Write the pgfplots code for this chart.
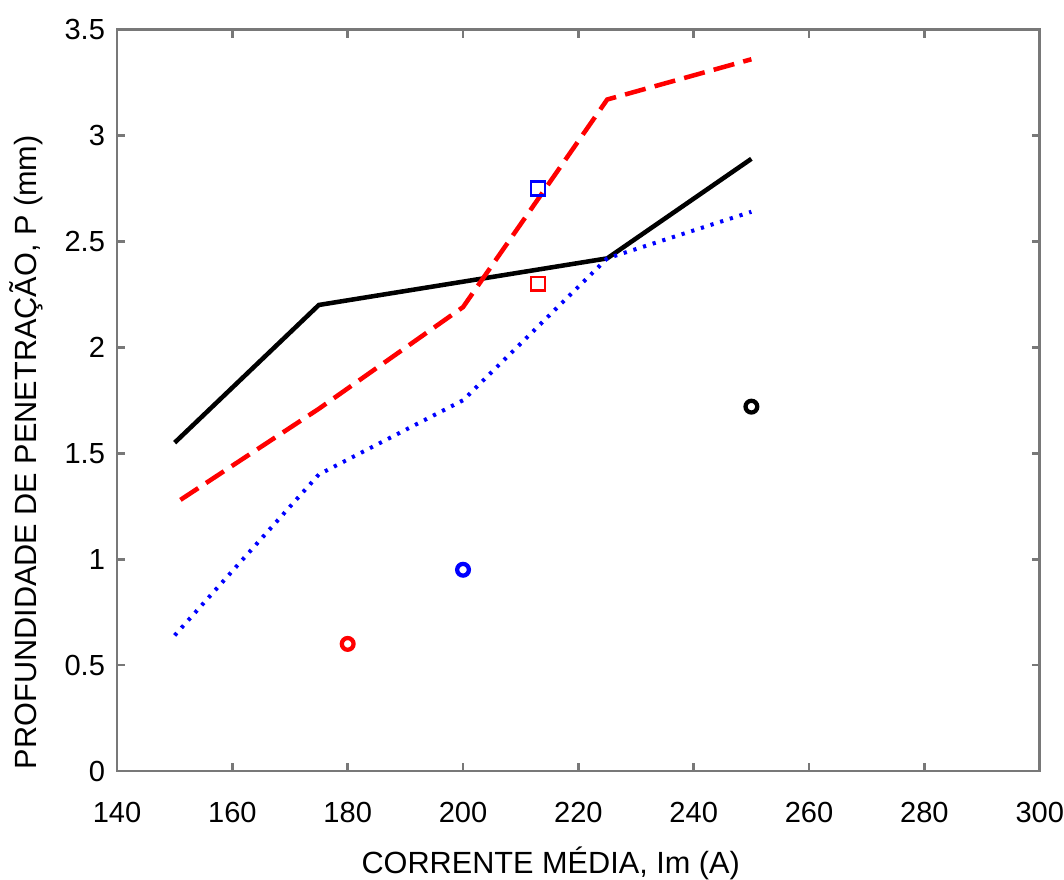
\documentclass[border=0pt]{standalone}
\usepackage{pgfplots}
\pgfplotsset{compat=1.18}
\usepackage{fontspec}
\setmainfont{Liberation Sans}
\definecolor{axgray}{RGB}{120,120,120}
\definecolor{mred}{RGB}{255,0,0}
\definecolor{mblue}{RGB}{0,0,255}
\begin{document}
\begin{tikzpicture}
\begin{axis}[
  scale only axis,
  width=346pt, height=278pt,
  xmin=140, xmax=300, ymin=0, ymax=3.5,
  xtick={140,160,...,300},
  ytick={0,0.5,...,3.5},
  axis line style={axgray, line width=1.1pt},
  tick style={axgray, line width=1pt},
  tick align=inside,
  major tick length=3pt,
  /pgf/number format/assume math mode=true,
  /pgf/number format/fixed,
  /pgf/number format/1000 sep={},
  /pgf/number format/precision=1,
  tick label style={font=\fontsize{10.9}{12}\selectfont, black},
  xticklabel style={yshift=-8pt},
  yticklabel style={xshift=-1pt},
  label style={font=\fontsize{11.5}{13}\selectfont, black},
  xlabel={CORRENTE MÉDIA, Im (A)},
  ylabel={PROFUNDIDADE DE PENETRAÇÃO, P (mm)},
  xlabel style={at={(axis description cs:0.47,-0.125)}, anchor=center},
  ylabel style={at={(axis description cs:-0.0985,0.43)}, anchor=center},
  clip=false,
]
% black solid
\addplot[black, line width=1.7pt, mark=none] coordinates {
 (150,1.55) (175,2.20) (225,2.42) (250,2.89)};
% red dashed
\addplot[mred, line width=1.7pt, mark=none, dash pattern=on 8pt off 3.5pt] coordinates {
 (151,1.28) (175,1.71) (200,2.19) (225,3.17) (250,3.36)};
% blue dotted
\addplot[mblue, line width=1.5pt, mark=none, dash pattern=on 1.2pt off 2.6pt] coordinates {
 (150,0.64) (175,1.40) (200,1.75) (225,2.42) (250,2.64)};
% squares
\addplot[only marks, mark=square, mark size=2.6pt, mblue, line width=1pt] coordinates {(213,2.75)};
\addplot[only marks, mark=square, mark size=2.6pt, mred, line width=1pt] coordinates {(213,2.30)};
% circles
\addplot[only marks, mark=o, mark size=2.2pt, mred, line width=1.6pt] coordinates {(180,0.60)};
\addplot[only marks, mark=o, mark size=2.2pt, mblue, line width=1.6pt] coordinates {(200,0.95)};
\addplot[only marks, mark=o, mark size=2.2pt, black, line width=1.6pt] coordinates {(250,1.72)};
\end{axis}
\pgfresetboundingbox
\path[use as bounding box] (-43.875pt,-40.5pt) rectangle (355.1pt,289.1pt);
\end{tikzpicture}
\end{document}
